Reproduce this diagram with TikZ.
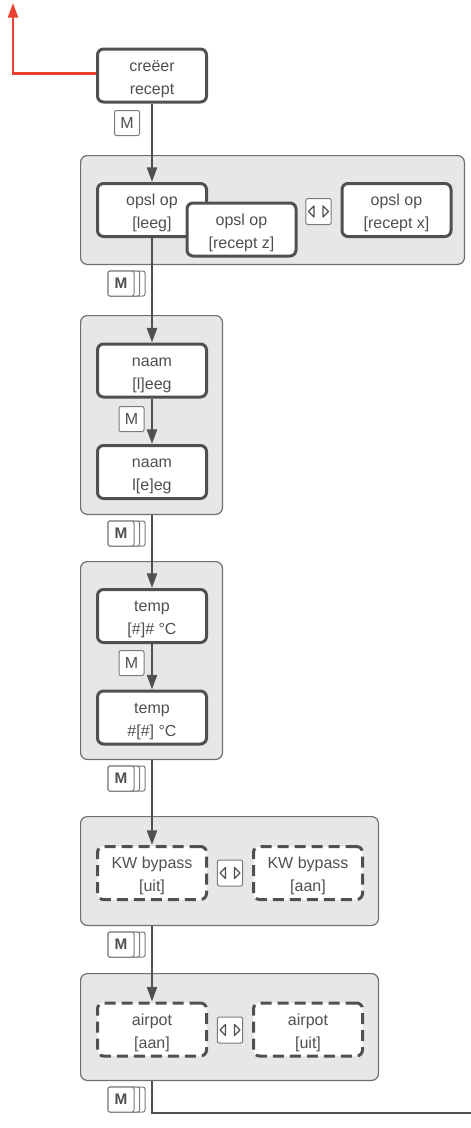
\documentclass[tikz,border=0pt]{standalone}
\usepackage{fontspec}
\setmainfont{Liberation Sans}
\usetikzlibrary{arrows.meta}
\definecolor{txt}{HTML}{505050}
\definecolor{bord}{HTML}{505050}
\definecolor{grp}{HTML}{E6E7E8}
\definecolor{grpb}{HTML}{707070}
\definecolor{icb}{HTML}{7A7A7A}
\definecolor{redl}{HTML}{E8412F}
\newcommand\twol[2]{\raisebox{-1.8pt}[\height][\depth]{\begin{tabular}{@{}c@{}}#1\\\relax #2\end{tabular}}}
\tikzset{
  box/.style={draw=bord, line width=2.25pt, rounded corners=4.5pt, fill=white,
    minimum width=81.75pt, minimum height=39.75pt, text=txt,
    font=\fontsize{12}{17.25}\selectfont, inner sep=0pt},
  dbox/.style={box, dash pattern=on 8.25pt off 4.5pt},
  grpbox/.style={draw=grpb, line width=0.9pt, fill=grp, rounded corners=5pt, inner sep=0pt},
  conn/.style={draw=bord, line width=1.9pt},
  arr/.style={conn, -{Triangle[length=11pt,width=7.5pt]}},
  redarr/.style={draw=redl, line width=1.9pt, -{Triangle[length=11pt,width=7.5pt]}},
  micon/.style={draw=icb, line width=0.75pt, fill=white, rounded corners=1.5pt,
    minimum width=18.75pt, minimum height=18.75pt, inner sep=0pt, text=txt,
    font=\fontsize{12}{12}\selectfont},
  strip/.style={draw=icb, line width=0.75pt, fill=white, rounded corners=1.5pt},
  tri/.style={draw=bord, line width=0.9pt, line join=round, fill=white},
  mstack/.pic={
    \path[strip] (-13,-12.5) rectangle (24,12.5);
    \path[strip] (-13,-12.5) rectangle (18.5,12.5);
    \node[micon, minimum width=19.5pt, font=\bfseries\fontsize{11.5}{12}\selectfont] (-m) at (0,0) {M};
  },
  lricon/.pic={
    \node[micon, minimum width=19pt, minimum height=19.5pt] (-b) at (0,0) {};
    \draw[tri] (-4.5,-5.5) -- (-10,0) -- (-4.5,5.5) -- cycle;
    \draw[tri] (4.5,-5.5) -- (10,0) -- (4.5,5.5) -- cycle;
  },
}
\begin{document}
\begin{tikzpicture}[x=0.75pt,y=-0.75pt]
\useasboundingbox (0,0) rectangle (471,1128);

% groups
\node[grpbox, minimum width=287.85pt, minimum height=81.6pt] (G1) at (272.5,210) {};
\node[grpbox, minimum width=106.35pt, minimum height=149.1pt] (G2) at (151.5,415) {};
\node[grpbox, minimum width=106.35pt, minimum height=148.35pt] (G3) at (151.5,660.5) {};
\node[grpbox, minimum width=223.35pt, minimum height=81.6pt] (G4) at (229.5,871) {};
\node[grpbox, minimum width=223.35pt, minimum height=80.1pt] (G5) at (229.5,1027) {};

% boxes
\node[box] (creer) at (152,75.5) {\twol{creëer}{recept}};
\node[box] (leeg) at (152,210) {\twol{opsl op}{[leeg]}};
\node[box] (recz) at (241.5,229.5) {\twol{opsl op}{[recept z]}};
\node[box] (recx) at (396.5,210) {\twol{opsl op}{[recept x]}};
\node[box] (naam1) at (152,370.5) {\twol{naam}{[l]eeg}};
\node[box] (naam2) at (152,472) {\twol{naam}{l[e]eg}};
\node[box] (temp1) at (152,616) {\twol{temp}{[\#]\# °C}};
\node[box] (temp2) at (152,717.5) {\twol{temp}{\#[\#] °C}};
\node[dbox] (kw1) at (152,873) {\twol{KW bypass}{[uit]}};
\node[dbox] (kw2) at (308,873) {\twol{KW bypass}{[aan]}};
\node[dbox] (air1) at (152,1029.5) {\twol{airpot}{[aan]}};
\node[dbox] (air2) at (308,1029.5) {\twol{airpot}{[uit]}};

% connectors
\coordinate (rtop) at (13,3);
\coordinate (endp) at (471,1113);
\draw[redarr] ([yshift=1.5pt]creer.west) -| (rtop);
\draw[arr] (creer.south) -- (leeg.north);
\draw[arr] (leeg.south) -- (naam1.north);
\draw[arr] (naam1.south) -- (naam2.north);
\draw[arr] (G2.south -| temp1) -- (temp1.north);
\draw[arr] (temp1.south) -- (temp2.north);
\draw[arr] (G3.south -| kw1) -- (kw1.north);
\draw[arr] (G4.south -| air1) -- (air1.north);
\draw[conn] (G5.south -| air1) |- (endp);

% icons
\node[micon] (m0) at (127,123) {M};
\node[micon] (m2) at (131.5,419) {M};
\node[micon] (m3) at (131.5,663) {M};
\pic (s1) at (121,283.5) {mstack};
\pic (s2) at (121,533.5) {mstack};
\pic (s3) at (121,778.5) {mstack};
\pic (s4) at (121,944.5) {mstack};
\pic (s5) at (121,1099.5) {mstack};
\pic (lr1) at (318.5,211.5) {lricon};
\pic (lr4) at (230,873) {lricon};
\pic (lr5) at (230,1030) {lricon};
\end{tikzpicture}
\end{document}
